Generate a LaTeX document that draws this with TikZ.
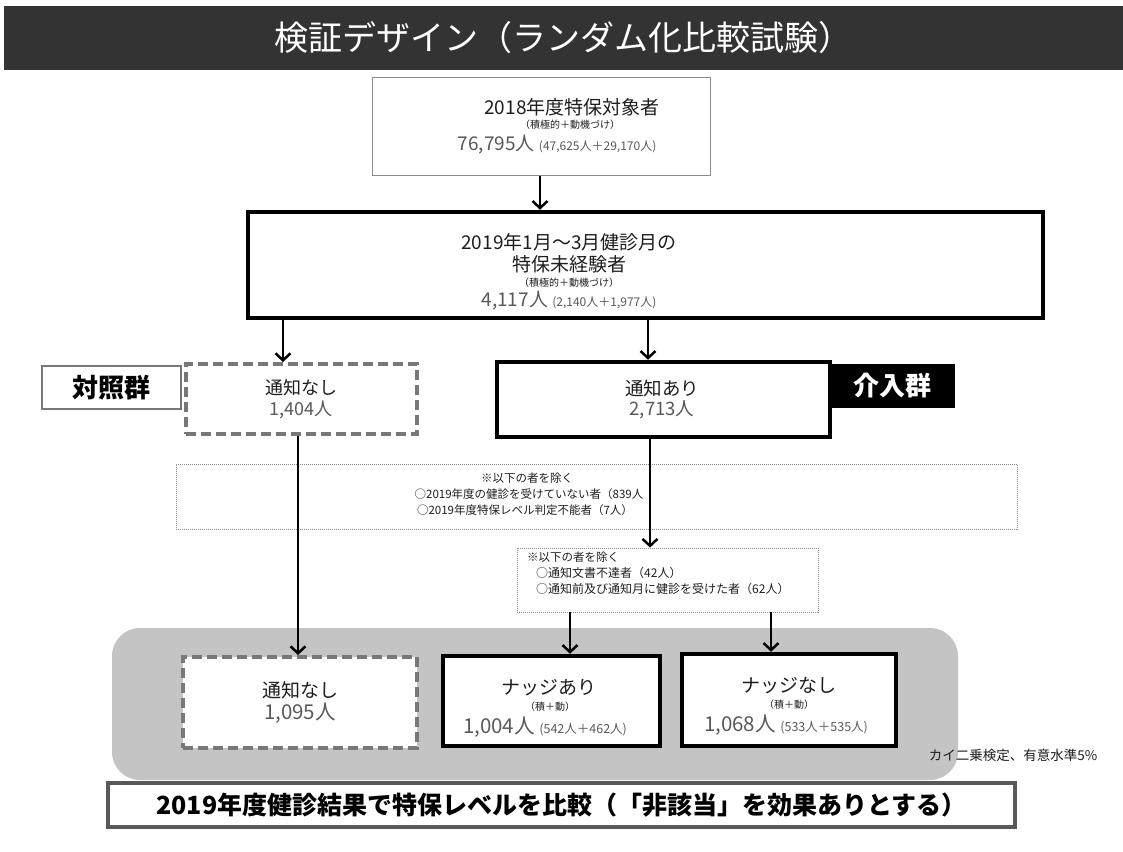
\documentclass[tikz,border=0pt]{standalone}
\usepackage{fontspec}
\setmainfont{Noto Sans CJK JP}
\usetikzlibrary{arrows.meta}
\definecolor{designcolor0001}{RGB}{51,51,51}
\definecolor{designcolor0002}{RGB}{120,120,120}
\definecolor{designcolor0003}{RGB}{89,89,89}
\definecolor{designcolor0004}{RGB}{196,196,196}
\definecolor{designcolor0005}{RGB}{30,30,30}
\definecolor{designcolor0006}{RGB}{140,140,140}

\begin{document}
\begin{tikzpicture}[yscale=-1
,pstyle0/.style={draw=designcolor0006,fill=white,line width=1pt,inner sep=0}
,pstyle1/.style={draw=black,fill=white,line width=4.5pt,inner sep=0}
,pstyle2/.style={draw=designcolor0002,fill=white,line width=4pt,dash pattern=on 10pt off 5pt,inner sep=0}
,pstyle3/.style={draw=designcolor0006,line width=0.8pt,dash pattern=on 1pt off 1pt,inner sep=0}
,pstyle4/.style={draw=black,line width=2.5pt,-{Straight Barb[length=7pt,width=15pt]}}
,pstyle5/.style={inner sep=0,color=designcolor0005,font=\fontsize{19}{22}\selectfont}
,pstyle6/.style={inner sep=0,color=designcolor0005,font=\fontsize{10}{12}\selectfont}
,pstyle7/.style={inner sep=0,color=designcolor0003,font=\fontsize{19}{22}\selectfont}
,pstyle8/.style={inner sep=0,color=designcolor0005,font=\fontsize{11.5}{13}\selectfont}
,pstyle9/.style={inner sep=0,color=designcolor0003,font=\fontsize{20.5}{24}\selectfont}
]
\useasboundingbox (0pt,0pt) rectangle (1123pt,851pt);
% title bar
\node[fill=designcolor0001,inner sep=0,minimum width=1119pt,minimum height=64pt,text=white,font=\fontsize{34}{40}\selectfont] (ttl) at (563.5pt,38pt) {検証デザイン（ランダム化比較試験）};
% grey band behind the last row
\node[fill=designcolor0004,rounded corners=28pt,minimum width=846pt,minimum height=152pt] (band) at (535pt,704pt) {};
% boxes
\node[pstyle0,minimum width=338pt,minimum height=98pt] (b1) at (541pt,126pt) {};
\node[pstyle1,minimum width=795pt,minimum height=106pt] (b2) at (645.5pt,265pt) {};
\node[draw=designcolor0002,fill=white,line width=2pt,minimum width=139pt,minimum height=43pt,inner sep=0,font=\fontsize{26}{30}\selectfont\bfseries] (ctl) at (111.5pt,387.5pt) {対照群};
\node[pstyle2,minimum width=231pt,minimum height=70pt] (nl1) at (301.5pt,399pt) {};
\node[fill=black,minimum width=125pt,minimum height=44pt,inner sep=0,text=white,font=\fontsize{26}{30}\selectfont\bfseries] (itv) at (892.5pt,386pt) {介入群};
\node[pstyle1,minimum width=333pt,minimum height=75pt] (al1) at (663.5pt,399.5pt) {};
\node[pstyle3,minimum width=841pt,minimum height=65pt] (ex1) at (596.5pt,496.5pt) {};
\node[pstyle3,minimum width=301pt,minimum height=64pt] (ex2) at (667.5pt,580pt) {};
\node[pstyle2,minimum width=234pt,minimum height=91pt] (nl2) at (300pt,702.5pt) {};
\node[pstyle1,minimum width=217pt,minimum height=90pt] (ny) at (551.5pt,701pt) {};
\node[pstyle1,minimum width=214pt,minimum height=92pt] (nn) at (789pt,700pt) {};
\node[draw=designcolor0003,fill=white,line width=4pt,minimum width=907pt,minimum height=44pt,inner sep=0,font=\fontsize{25}{29}\selectfont\bfseries] (res) at (561.5pt,805pt) {2019年度健診結果で特保レベルを比較（「非該当」を効果ありとする）};
% texts
\node[pstyle5] (b1a) at (572pt,107pt) {2018年度特保対象者};
\node[pstyle6] (b1b) at (570pt,125pt) {（積極的＋動機づけ）};
\node[pstyle7] (b1c) at (557pt,145pt) {76,795人 {\fontsize{12}{14}\selectfont (47,625人＋29,170人)}};
\node[pstyle5] (b2a) at (569pt,242pt) {2019年1月～3月健診月の};
\node[pstyle5] (b2b) at (569pt,264pt) {特保未経験者};
\node[pstyle6] (b2c) at (569pt,283pt) {（積極的＋動機づけ）};
\node[pstyle7] (b2d) at (569pt,301pt) {4,117人 {\fontsize{12}{14}\selectfont (2,140人＋1,977人)}};
\node[pstyle5,font=\fontsize{18}{21}\selectfont] (nl1a) at (301pt,388pt) {通知なし};
\node[pstyle7,font=\fontsize{18}{21}\selectfont] (nl1b) at (301pt,410pt) {1,404人};
\node[pstyle5,font=\fontsize{18.5}{21}\selectfont] (al1a) at (662pt,388pt) {通知あり};
\node[pstyle7,font=\fontsize{18.5}{21}\selectfont] (al1b) at (662pt,410pt) {2,713人};
\node[pstyle8] (ex1a) at (527pt,478pt) {※以下の者を除く};
\node[pstyle8] (ex1b) at (529pt,494pt) {○2019年度の健診を受けていない者（839人};
\node[pstyle8] (ex1c) at (525pt,510pt) {○2019年度特保レベル判定不能者（7人）};
\node[pstyle8,anchor=west] (ex2a) at (527pt,557pt) {※以下の者を除く};
\node[pstyle8,anchor=west,font=\fontsize{12}{14}\selectfont] (ex2b) at (536pt,573pt) {○通知文書不達者（42人）};
\node[pstyle8,anchor=west,font=\fontsize{12}{14}\selectfont] (ex2c) at (536pt,589pt) {○通知前及び通知月に健診を受けた者（62人）};
\node[pstyle5] (nl2a) at (300pt,690pt) {通知なし};
\node[pstyle9] (nl2b) at (300pt,713pt) {1,095人};
\node[pstyle5] (nya) at (549pt,688pt) {ナッジあり};
\node[pstyle6] (nyb) at (550pt,707pt) {（積＋動）};
\node[pstyle9] (nyc) at (545pt,727pt) {1,004人 {\fontsize{12.5}{14}\selectfont (542人＋462人)}};
\node[pstyle5] (nna) at (789pt,686pt) {ナッジなし};
\node[pstyle6] (nnb) at (789pt,705pt) {（積＋動）};
\node[pstyle9] (nnc) at (786pt,725pt) {1,068人 {\fontsize{12.5}{14}\selectfont (533人＋535人)}};
\node[pstyle8,font=\fontsize{13.5}{16}\selectfont] (note) at (1013pt,755pt) {カイ二乗検定、有意水準5\%};
% arrows
\coordinate (x1) at (540pt,0pt);
\coordinate (x2) at (283pt,0pt);
\coordinate (x3) at (648pt,0pt);
\coordinate (x4) at (298pt,0pt);
\coordinate (x5) at (650pt,0pt);
\coordinate (x6) at (570pt,0pt);
\coordinate (x7) at (771pt,0pt);
\draw[pstyle4] (x1 |- b1.south) -- (x1 |- b2.north);
\draw[pstyle4] (x2 |- b2.south) -- (x2 |- nl1.north);
\draw[pstyle4] (x3 |- b2.south) -- (x3 |- al1.north);
\draw[pstyle4] (x4 |- nl1.south) -- (x4 |- nl2.north);
\draw[pstyle4] (x5 |- al1.south) -- (x5 |- ex2.north);
\draw[pstyle4] (x6 |- ex2.south) -- (x6 |- ny.north);
\draw[pstyle4] (x7 |- ex2.south) -- (x7 |- nn.north);
\end{tikzpicture}
\end{document}
